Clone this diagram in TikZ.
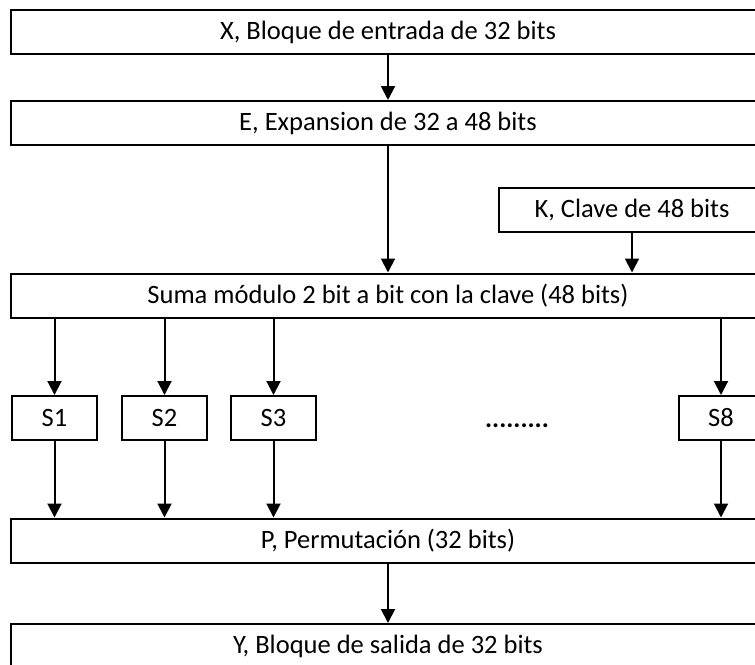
\documentclass[tikz,border=0pt]{standalone}
\usepackage{fontspec}
\setmainfont{Carlito}
\usetikzlibrary{arrows.meta}
\tikzset{
	bloque/.style={draw, line width=2pt, minimum width=754pt, minimum height=44pt, inner sep=0pt, font=\fontsize{26.5}{30}\selectfont},
	caja/.style={bloque, minimum width=85pt},
	flecha/.style={line width=2pt, -{Triangle[width=14pt,length=14pt]}}
}
\begin{document}
\begin{tikzpicture}[x=1pt,y=-1pt]
		\useasboundingbox (0,0) rectangle (755,664);
		\clip (0,0) rectangle (755,664);
		% bloques
		\node[bloque] (X) at (388,32) {X, Bloque de entrada de 32 bits};
		\node[bloque] (E) at (388,123) {E, Expansion de 32 a 48 bits};
		\node[bloque, minimum width=266pt] (K) at (632,210) {K, Clave de 48 bits};
		\node[bloque] (suma) at (388,295.5) {Suma módulo 2 bit a bit con la clave (48 bits)};
		\node[caja] (S1) at (54.5,418) {S1};
		\node[caja] (S2) at (164.5,418) {S2};
		\node[caja] (S3) at (273.5,418) {S3};
		\node[caja] (S8) at (721,418) {S8};
		\node[font=\fontsize{26.5}{30}\selectfont\bfseries, anchor=base] (puntos) at (517,427) {.........};
		\node[bloque] (P) at (388,540.5) {P, Permutación (32 bits)};
		\node[bloque] (Y) at (388,646) {Y, Bloque de salida de 32 bits};
		
		% flechas
		\draw[flecha] (X) -- (E);
		\draw[flecha] (E) -- (suma);
		\draw[flecha] (K) -- (K |- suma.north);
		\draw[flecha] (suma.south -| S1) -- (S1);
		\draw[flecha] (suma.south -| S2) -- (S2);
		\draw[flecha] (suma.south -| S3) -- (S3);
		\draw[flecha] (suma.south -| S8) -- (S8);
		\draw[flecha] (S1) -- (S1 |- P.north);
		\draw[flecha] (S2) -- (S2 |- P.north);
		\draw[flecha] (S3) -- (S3 |- P.north);
		\draw[flecha] (S8) -- (S8 |- P.north);
		\draw[flecha] (P) -- (Y);
	\end{tikzpicture}
\end{document}
